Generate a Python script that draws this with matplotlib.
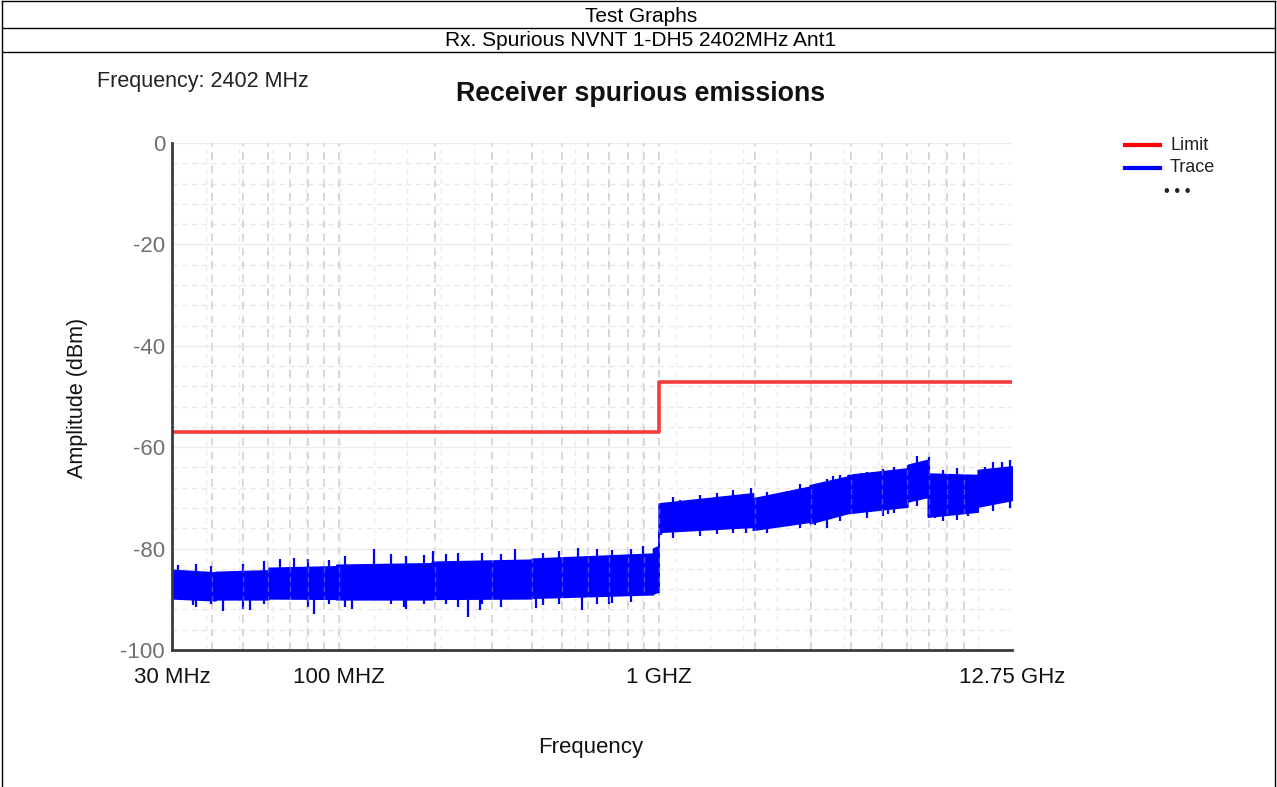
import numpy as np
import matplotlib
matplotlib.use("Agg")
import matplotlib.pyplot as plt
from matplotlib.lines import Line2D

plt.rcParams['font.family'] = ['Liberation Sans', 'DejaVu Sans']

# ---------------- data ----------------
header_title = "Test Graphs"
header_sub = "Rx. Spurious NVNT 1-DH5 2402MHz Ant1"
chart_title = "Receiver spurious emissions"
freq_note = "Frequency: 2402 MHz"

x_tick_mhz = [30, 100, 1000, 12750]
x_tick_labels = ["30 MHz", "100 MHZ", "1 GHZ", "12.75 GHz"]
y_ticks = [0, -20, -40, -60, -80, -100]

# Limit line (step at 1 GHz)
limit_freq_mhz = [30, 1000, 1000, 12750]
limit_db = [-57.1, -57.1, -47.1, -47.1]

# Trace: noise band envelope, per sweep segment
band_freq_mhz = [30, 41, 41, 60, 60, 98, 98, 195, 195, 400, 400, 960, 960, 1000,
                 1000, 1970, 1970, 2970, 2970, 3900, 3900, 6000, 6000, 6950,
                 6950, 9960, 9960, 12750]
band_top_db = [-84.2, -84.7, -84.6, -84.3, -83.8, -83.5, -83.2, -82.9, -82.6, -82.2,
               -82.0, -81.0, -80.0, -79.5,
               -71.1, -69.1, -70.1, -67.8, -67.5, -65.8, -65.5, -64.2, -63.5, -62.5,
               -65.2, -65.5, -64.5, -63.8]
band_bottom_db = [-89.8, -90.2, -90.0, -90.0, -89.8, -89.9, -90.0, -90.0, -89.9, -89.8,
                  -89.7, -89.0, -88.8, -88.5,
                  -76.7, -75.7, -76.3, -74.7, -75.0, -73.0, -73.0, -71.7, -70.7, -69.8,
                  -73.7, -72.7, -71.7, -70.4]

# Individual spikes of the trace: frequency, lower end, upper end
spike_freq_mhz = [31.3, 35, 35.6, 39.7, 43.2, 50.1, 52.6, 58.4, 65.2, 72, 80.1, 83.6,
                  93.2, 104, 110, 129, 145, 160, 162, 185, 196, 216, 235, 253, 275,
                  280, 322, 354, 412, 436, 486, 561, 575, 641, 700, 715, 821, 890,
                  1020, 1110, 1170, 1347, 1500, 1518, 1713, 1880, 1950, 2178, 2520,
                  2766, 3090, 3354, 3500, 3690, 4300, 4470, 5040, 5200, 5430, 6420,
                  7000, 7300, 7770, 8550, 9300, 10500, 11150, 11900, 12560]
spike_lo_db = [-88.0, -91.2, -91.5, -91.0, -92.4, -92.0, -92.1, -91.0, -88.0, -88.0,
               -91.5, -92.9, -91.0, -91.5, -92.0, -86.0, -91.0, -91.5, -92.0, -91.0,
               -86.0, -91.0, -91.5, -93.4, -92.2, -91.0, -91.5, -86.0, -91.7, -91.2,
               -91.0, -86.0, -92.1, -91.0, -91.0, -90.8, -90.5, -86.0,
               -77.3, -78.0, -74.0, -77.5, -76.3, -77.2, -77.0, -76.9, -72.0, -77.0,
               -72.0, -76.0, -75.3, -76.0, -70.0, -74.5, -69.0, -74.0, -73.5, -73.2,
               -73.0, -71.5, -68.0, -73.9, -74.5, -74.3, -73.5, -70.0, -72.5, -68.0,
               -72.0]
spike_hi_db = [-83.2, -86.0, -83.0, -83.5, -86.0, -83.0, -86.0, -82.5, -82.1, -81.9,
               -82.0, -86.0, -82.2, -81.5, -86.0, -80.1, -81.0, -85.0, -81.5, -81.2,
               -80.4, -81.0, -80.8, -87.0, -87.0, -80.9, -81.0, -80.1, -86.0, -80.8,
               -80.5, -79.9, -86.0, -80.0, -85.0, -80.2, -80.0, -79.5,
               -72.0, -69.8, -70.4, -69.5, -70.0, -69.0, -68.5, -72.0, -68.1, -68.8,
               -68.7, -67.2, -70.0, -66.2, -65.7, -65.5, -65.0, -64.8, -64.3, -66.5,
               -64.0, -61.8, -62.0, -68.0, -64.5, -64.2, -68.0, -64.0, -63.0, -62.9,
               -62.5]

# ---------------- figure ----------------
W, H, DPI = 1277, 787, 100
fig = plt.figure(figsize=(W / DPI, H / DPI), dpi=DPI)
fig.patch.set_facecolor("white")

# Header table lines
def fline(x0, y0, x1, y1, **kw):
    fig.add_artist(Line2D([x0 / W, x1 / W], [1 - y0 / H, 1 - y1 / H],
                          transform=fig.transFigure, color="black", lw=1.0, **kw))

fline(2, 1, 1275, 1)
fline(2, 28, 1275, 28)
fline(2, 52, 1275, 52)
fline(2, 1, 2, 787)
fline(1275, 1, 1275, 787)

fig.text(641 / W, 1 - 16 / H, header_title, ha="center", va="center", fontsize=15)
fig.text(641 / W, 1 - 40 / H, header_sub, ha="center", va="center", fontsize=15)

fig.text(97 / W, 1 - 82 / H, freq_note, ha="left", va="center", fontsize=15.5,
         color="#222222")
fig.text(641 / W, 1 - 94 / H, chart_title, ha="center", va="center", fontsize=19.3,
         fontweight="bold", color="#111111")

ax_l, ax_r, ax_t, ax_b = 172, 1012, 143, 650
ax = fig.add_axes([ax_l / W, 1 - ax_b / H, (ax_r - ax_l) / W, (ax_b - ax_t) / H])
ax.set_xscale("log")
ax.set_xlim(30, 12750)
ax.set_ylim(-100, 0)

# grid: horizontal
for yv in range(0, -101, -4):
    if yv % 20 == 0:
        ax.axhline(yv, color="#ececec", lw=1.0, zorder=0.5)
    else:
        ax.axhline(yv, color="#e8e8e8", lw=1.0, ls=(0, (4, 3)), zorder=0.5)
# grid: vertical light (equal log divisions)
lo, hi = np.log10(30), np.log10(12750)
for k in range(1, 25):
    ax.axvline(10 ** (lo + k * (hi - lo) / 25), color="#ededed", lw=1.0,
               ls=(0, (4, 3)), zorder=0.6)
# grid: vertical dark (decade multiples), faintly visible through the trace
for dec in (10, 100, 1000):
    for m in range(1, 10):
        f = m * dec
        if 30 < f < 12750:
            ax.axvline(f, color="#d4d4d4", lw=1.4, ls=(0, (4, 3)), zorder=0.7)
            ax.axvline(f, color="white", alpha=0.3, lw=1.0, ls=(0, (4, 3)), zorder=3)

# trace band
ax.fill_between(band_freq_mhz, band_bottom_db, band_top_db, color="#0000ff",
                lw=1.2, edgecolor="#0000ff", zorder=2)
ax.vlines(spike_freq_mhz, spike_lo_db, spike_hi_db, color="#0000ff", lw=1.6, zorder=2)

# limit
ax.plot(limit_freq_mhz, limit_db, color="#f53c3c", lw=2.6, zorder=4)

# axes styling
for s in ("top", "right"):
    ax.spines[s].set_visible(False)
for s in ("left", "bottom"):
    ax.spines[s].set_color("#3a3a3a")
    ax.spines[s].set_linewidth(2.0)
    ax.spines[s].set_zorder(5)

ax.set_xticks(x_tick_mhz)
ax.set_xticklabels(x_tick_labels, fontsize=16, color="#111111")
ax.xaxis.set_minor_locator(matplotlib.ticker.NullLocator())
ax.set_yticks(y_ticks)
ax.set_yticklabels([str(v) for v in y_ticks], fontsize=16, color="#707070")
ax.tick_params(axis="both", length=0)
ax.tick_params(axis="x", pad=12)
ax.tick_params(axis="y", pad=5)

fig.text(77 / W, 1 - 398 / H, "Amplitude (dBm)", rotation=90, ha="center",
         va="center", fontsize=15.5, color="#111111")
fig.text(591 / W, 1 - 747 / H, "Frequency", ha="center", va="center", fontsize=16,
         color="#111111")

# legend
fig.add_artist(Line2D([1125 / W, 1160 / W], [1 - 145 / H, 1 - 145 / H],
                      transform=fig.transFigure, color="#ff0000", lw=3))
fig.add_artist(Line2D([1125 / W, 1160 / W], [1 - 168 / H, 1 - 168 / H],
                      transform=fig.transFigure, color="#0000ff", lw=3))
fig.text(1170 / W, 1 - 145 / H, "Limit", ha="left", va="center", fontsize=13,
         color="#222222")
fig.text(1170 / W, 1 - 168 / H, "Trace", ha="left", va="center", fontsize=13,
         color="#222222")
fig.text(1177 / W, 1 - 191 / H, "\u2022 \u2022 \u2022", ha="center", va="center",
         fontsize=12, color="#222222")

fig.savefig("out.png", dpi=DPI, facecolor="white")
